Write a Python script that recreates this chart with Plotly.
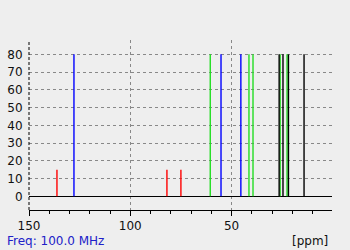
import plotly.graph_objects as go

# Peak positions (ppm) and heights, grouped by colour
red_ppm = [136.2, 81.9, 75.0]
red_h = [15, 15, 15]
blue_ppm = [127.8, 55.2, 45.4]
blue_h = [80, 80, 80]
green_ppm = [60.5, 41.4, 39.4, 26.0, 22.6]
green_h = [80, 80, 80, 80, 80]
black_ppm = [26.5, 24.6, 21.9, 14.2]
black_h = [80, 80, 80, 80]

x_range = [150, 0.4]
y_range = [-7.7, 88.1]
y_ticks = [0, 10, 20, 30, 40, 50, 60, 70, 80]
x_ticks = [150, 100, 50]

BG = "#eeeeee"
FONT = "DejaVu Sans"


def sticks(ppm, h):
    xs, ys = [], []
    for p, v in zip(ppm, h):
        xs += [p, p, None]
        ys += [0, v, None]
    return xs, ys


fig = go.Figure()
for ppm, h, col in [
    (red_ppm, red_h, "#ff0000"),
    (blue_ppm, blue_h, "#0000ff"),
    (green_ppm, green_h, "#22dd22"),
    (black_ppm, black_h, "#000000"),
]:
    xs, ys = sticks(ppm, h)
    fig.add_trace(go.Scatter(x=xs, y=ys, mode="lines",
                             line=dict(color=col, width=1.4),
                             hoverinfo="skip", showlegend=False))

fig.update_layout(
    width=350, height=250,
    margin=dict(l=29, r=18, t=40, b=40),
    paper_bgcolor=BG, plot_bgcolor=BG,
    font=dict(family=FONT, size=12, color="#111111"),
    showlegend=False,
    xaxis=dict(range=x_range, tickvals=x_ticks, ticktext=[str(v) for v in x_ticks],
               showgrid=True, gridcolor="#888888", griddash="3px,3px", gridwidth=1,
               showline=True, linecolor="black", linewidth=1,
               ticks="outside", ticklen=5, tickcolor="black",
               minor=dict(dtick=10, tick0=0, ticks="outside", ticklen=3,
                          tickcolor="black", showgrid=False),
               zeroline=False, fixedrange=True, automargin=False),
    yaxis=dict(range=y_range, tickvals=y_ticks, ticktext=[str(v) for v in y_ticks],
               showgrid=True, gridcolor="#888888", griddash="3px,3px", gridwidth=1,
               showline=False, ticks="outside", ticklen=3, tickcolor=BG,
               zeroline=True, zerolinecolor="black", zerolinewidth=1.2,
               fixedrange=True, automargin=False),
    shapes=[dict(type="line", xref="paper", yref="paper", x0=0, x1=0, y0=0, y1=1,
                 line=dict(color="black", width=1, dash="3px,2px"))],
    annotations=[
        dict(text="Freq: 100.0 MHz", xref="paper", yref="paper",
             x=-24 / 303, y=-31 / 170, xanchor="left", yanchor="middle",
             showarrow=False, font=dict(color="#2020c8", size=12, family=FONT)),
        dict(text="[ppm]", xref="paper", yref="paper",
             x=301 / 303, y=-31 / 170, xanchor="right", yanchor="middle",
             showarrow=False, font=dict(color="#111111", size=12, family=FONT)),
    ],
)

fig.write_html("out.html")
